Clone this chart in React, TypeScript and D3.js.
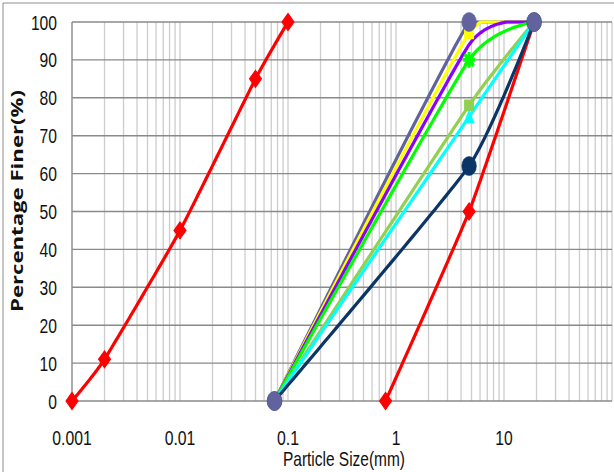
import React, { useEffect } from "react";
import * as d3 from "d3";

// ---- data ----
const hydroSizes = [0.001, 0.002, 0.01, 0.05, 0.1];
const hydroFiner = [0, 11, 45, 85, 100];
const coarseSizes = [0.8, 4.75, 19];
const coarseFiner = [0, 50, 100];
const sieveSizes = [0.075, 4.75, 19];
const navyFiner = [0, 62, 100];
const cyanFiner = [0, 75, 100];
const lightGreenFiner = [0, 78, 100];
const greenFiner = [0, 90, 100];
const purpleFiner = [0, 94, 100];
const yellowFiner = [0, 97, 100];
const slateFiner = [0, 100, 100];

const yTicks = [0, 10, 20, 30, 40, 50, 60, 70, 80, 90, 100];
const xTickValues = [0.001, 0.01, 0.1, 1, 10];
const xTickLabels = ["0.001", "0.01", "0.1", "1", "10"];

type Marker = "diamond" | "circle" | "triangle" | "square" | "star" | "none";
type Series = { sizes: number[]; finer: number[]; color: string; marker: Marker };

// drawing order of the lines (bottom to top)
const series: Series[] = [
  { sizes: sieveSizes, finer: slateFiner, color: "#62629E", marker: "circle" },
  { sizes: sieveSizes, finer: yellowFiner, color: "#FFFF00", marker: "square" },
  { sizes: sieveSizes, finer: purpleFiner, color: "#8A00FF", marker: "none" },
  { sizes: sieveSizes, finer: greenFiner, color: "#00FF00", marker: "star" },
  { sizes: sieveSizes, finer: lightGreenFiner, color: "#92D050", marker: "square" },
  { sizes: sieveSizes, finer: cyanFiner, color: "#00FFFF", marker: "triangle" },
  { sizes: coarseSizes, finer: coarseFiner, color: "#FF0000", marker: "diamond" },
  { sizes: sieveSizes, finer: navyFiner, color: "#0A3565", marker: "circle" },
  { sizes: hydroSizes, finer: hydroFiner, color: "#FF0000", marker: "diamond" },
];
// markers: slate drawn last
const markerOrder = [1, 2, 3, 4, 5, 6, 7, 8, 0];

const W = 614;
const H = 472;
const L = 72, R = 612, T = 22, B = 401;

const labelWidth = (s: string) => {
  let w = 0;
  for (const c of s) w += c === "." ? 4.6 : 8.7;
  return w;
};

// smoothed curve (like a spreadsheet's smoothed line) clamped at the plot's top edge
function makeClampedCurve(yTop: number) {
  return (context: any) => {
    let cx = 0, cy = 0;
    const proxy = {
      moveTo(x: number, y: number) { cx = x; cy = y; context.moveTo(x, Math.max(y, yTop)); },
      lineTo(x: number, y: number) { cx = x; cy = y; context.lineTo(x, Math.max(y, yTop)); },
      bezierCurveTo(x1: number, y1: number, x2: number, y2: number, x: number, y: number) {
        const n = 40;
        for (let i = 1; i <= n; i++) {
          const t = i / n, u = 1 - t;
          const px = u * u * u * cx + 3 * u * u * t * x1 + 3 * u * t * t * x2 + t * t * t * x;
          const py = u * u * u * cy + 3 * u * u * t * y1 + 3 * u * t * t * y2 + t * t * t * y;
          context.lineTo(px, Math.max(py, yTop));
        }
        cx = x; cy = y;
      },
      closePath() { context.closePath(); },
    };
    return d3.curveCardinal.tension(0.5)(proxy as any);
  };
}

export default function App() {
  useEffect(() => {
    document.body.style.margin = "0";
  }, []);

  const x = d3.scaleLog().domain([0.001, 100]).range([L, R]);
  const y = d3.scaleLinear().domain([0, 100]).range([B, T]);

  const minorTicks: number[] = [];
  for (let e = -3; e < 2; e++) {
    for (let m = 1; m <= 9; m++) minorTicks.push(m * Math.pow(10, e));
  }
  minorTicks.push(100);

  const line = d3
    .line<[number, number]>()
    .x((d) => x(d[0]))
    .y((d) => y(d[1]))
    .curve(makeClampedCurve(y(100)) as any);

  const drawMarker = (m: Marker, color: string, cx: number, cy: number, key: string) => {
    const t = `translate(${cx},${cy}) scale(1,1.3)`;
    switch (m) {
      case "diamond":
        return <path key={key} transform={t} d="M0,-6.5L6,0L0,6.5L-6,0Z" fill={color} stroke={color} strokeWidth={1} />;
      case "circle":
        return <circle key={key} transform={t} r={7.3} fill={color} stroke={color} strokeWidth={0.5} />;
      case "triangle":
        return <path key={key} transform={t} d="M0,-6L5.5,5L-5.5,5Z" fill={color} />;
      case "square":
        return <rect key={key} transform={t} x={-5} y={-4.5} width={10} height={9} fill={color} />;
      case "star":
        return (
          <path key={key} transform={t} d="M-4.5,-4.5L4.5,4.5M-4.5,4.5L4.5,-4.5M0,-6L0,6M-6,0L6,0" stroke={color} strokeWidth={3} fill="none" />
        );
      default:
        return null;
    }
  };

  const tickFont = "'Liberation Sans', 'DejaVu Sans', sans-serif";

  return (
    <svg width={W} height={H} style={{ position: "absolute", left: 0, top: 0, background: "#fff" }}>
      <rect x={0} y={0} width={W} height={H} fill="#fff" />
      {/* chart frame */}
      <line x1={3} y1={3} x2={W} y2={3} stroke="#8c8c8c" strokeWidth={1} />
      <line x1={3} y1={3} x2={3} y2={H} stroke="#8c8c8c" strokeWidth={1} />

      {/* vertical gridlines */}
      {minorTicks.map((v, i) => (
        <line key={"v" + i} x1={x(v)} x2={x(v)} y1={T} y2={B} stroke="#cdcdcd" strokeWidth={1.3} />
      ))}
      {/* horizontal gridlines */}
      {yTicks.map((v) => (
        <line key={"h" + v} x1={L} x2={R} y1={y(v)} y2={y(v)} stroke="#8a8a8a" strokeWidth={1.4} />
      ))}
      <line x1={L} x2={L} y1={T} y2={B} stroke="#8a8a8a" strokeWidth={1.2} />

      {/* lines */}
      <g>
        {series.map((s, i) => (
          <path
            key={"l" + i}
            d={line(s.sizes.map((v, j) => [v, s.finer[j]] as [number, number])) || ""}
            fill="none"
            stroke={s.color}
            strokeWidth={3.2}
            strokeLinejoin="round"
          />
        ))}
      </g>
      {/* markers */}
      {markerOrder.map((i) => {
        const s = series[i];
        return s.sizes.map((v, j) => drawMarker(s.marker, s.color, x(v), y(s.finer[j]), `m${i}-${j}`));
      })}

      {/* y tick labels */}
      {yTicks.map((v) => (
        <text
          key={"yt" + v}
          x={57}
          y={y(v) + 7.5}
          textAnchor="end"
          fontFamily={tickFont}
          fontSize={21}
          fill="#111"
          textLength={labelWidth(String(v))}
          lengthAdjust="spacingAndGlyphs"
        >
          {v}
        </text>
      ))}
      {/* x tick labels */}
      {xTickValues.map((v, i) => (
        <text
          key={"xt" + i}
          x={x(v)}
          y={445}
          textAnchor="middle"
          fontFamily={tickFont}
          fontSize={21}
          fill="#111"
          textLength={labelWidth(xTickLabels[i])}
          lengthAdjust="spacingAndGlyphs"
        >
          {xTickLabels[i]}
        </text>
      ))}
      {/* axis titles */}
      <text
        x={344}
        y={466}
        textAnchor="middle"
        fontFamily={tickFont}
        fontSize={21}
        fill="#111"
        textLength={122}
        lengthAdjust="spacingAndGlyphs"
      >
        Particle Size(mm)
      </text>
      <text
        transform={`translate(23,201) rotate(-90)`}
        textAnchor="middle"
        fontFamily="'Open Sans', 'Liberation Sans', sans-serif"
        fontWeight="bold"
        fontSize={16}
        fill="#111"
        textLength={222}
        lengthAdjust="spacingAndGlyphs"
      >
        Percentage Finer(%)
      </text>
    </svg>
  );
}
